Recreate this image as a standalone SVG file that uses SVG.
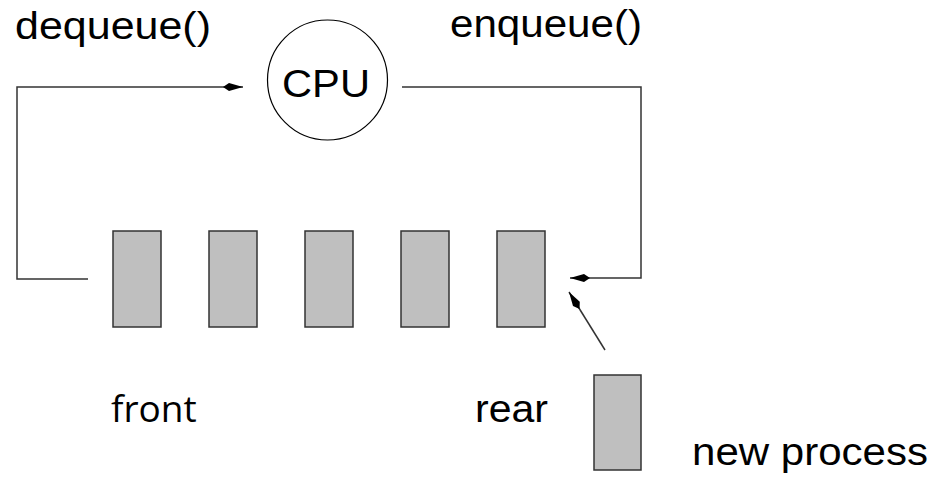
<svg xmlns="http://www.w3.org/2000/svg" width="936" height="480" viewBox="0 0 936 480">
<defs>
<marker id="ah" markerWidth="22" markerHeight="10" refX="20" refY="5" orient="auto" markerUnits="userSpaceOnUse">
<path d="M0,5 L6,1 L20,5 L6,9 Z" fill="#000"/>
</marker>
</defs>
<style>
.t{font-family:"Liberation Sans",Arial,sans-serif;font-size:38px;fill:#000}
.f{font-family:"Open Sans","Noto Sans",sans-serif;font-size:37px;fill:#000}
.q{fill:#bfbfbf;stroke:#333;stroke-width:1.5}
.c{fill:none;stroke:#333;stroke-width:1.5}
</style>
<rect width="936" height="480" fill="#fff"/>
<g id="cpu">
<circle cx="327.5" cy="80" r="60" fill="#fff" stroke="#000" stroke-width="1.2"/>
<text class="t" x="282" y="97" textLength="88" lengthAdjust="spacingAndGlyphs">CPU</text>
</g>
<g id="queue">
<rect class="q" x="113" y="231" width="48" height="96"/>
<rect class="q" x="209" y="231" width="48" height="96"/>
<rect class="q" x="305" y="231" width="48" height="96"/>
<rect class="q" x="401" y="231" width="48" height="96"/>
<rect class="q" x="497" y="231" width="48" height="96"/>
</g>
<g id="newproc">
<rect class="q" x="594" y="375" width="47" height="95"/>
</g>
<g id="connectors">
<polyline class="c" points="88,279 17,279 17,87 243,87" marker-end="url(#ah)"/>
<polyline class="c" points="402,87 641,87 641,278 570,278" marker-end="url(#ah)"/>
<line class="c" x1="605" y1="350" x2="569" y2="292" marker-end="url(#ah)"/>
</g>
<g id="labels">
<text class="t" x="15" y="39" textLength="196" lengthAdjust="spacingAndGlyphs">dequeue()</text>
<text class="t" x="450" y="37" textLength="192" lengthAdjust="spacingAndGlyphs">enqueue()</text>
<text class="f" x="111" y="422">front</text>
<text class="t" x="475" y="422" textLength="73" lengthAdjust="spacingAndGlyphs">rear</text>
<text class="t" x="692" y="465" textLength="236" lengthAdjust="spacingAndGlyphs">new process</text>
</g>
</svg>
